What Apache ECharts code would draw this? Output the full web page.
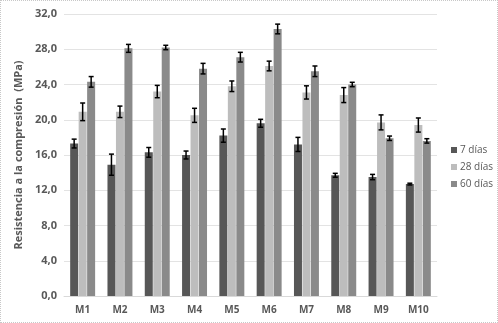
<!DOCTYPE html>
<html><head><meta charset="utf-8">
<script src="https://cdn.jsdelivr.net/npm/echarts@6/dist/echarts.min.js"></script>
<style>html,body{margin:0;padding:0;background:#fff}#c{width:498px;height:323px;box-sizing:border-box;border:1px dotted #c8c8c8}</style>
</head><body><div id="c"></div>
<script>
const categories = ['M1','M2','M3','M4','M5','M6','M7','M8','M9','M10'];
const seriesNames = ['7 días','28 días','60 días'];
const d7  = [17.3,14.9,16.3,16.0,18.2,19.6,17.2,13.7,13.5,12.7];
const d28 = [20.9,20.9,23.2,20.5,23.8,26.1,23.1,22.8,19.7,19.4];
const d60 = [24.3,28.1,28.2,25.8,27.1,30.3,25.5,24.0,17.9,17.6];
const e7  = [0.5,1.2,0.55,0.45,0.75,0.45,0.8,0.22,0.3,0.1];
const e28 = [1.0,0.65,0.7,0.8,0.6,0.55,0.75,0.85,0.85,0.8];
const e60 = [0.6,0.45,0.25,0.6,0.55,0.55,0.6,0.25,0.25,0.25];
const colors = ['#575757','#bdbdbd','#8a8a8a'];

const vals = [d7,d28,d60], errs = [e7,e28,e60];
const BW = 8, GAP = 0.5;
const chart = echarts.init(document.getElementById('c'));
const series = [];
vals.forEach((v,i)=>{
  series.push({name:seriesNames[i],type:'bar',data:v,barWidth:BW,barGap:'6%',barCategoryGap:'33%',
    itemStyle:{color:colors[i]}});
});
vals.forEach((v,i)=>{
  series.push({type:'custom',silent:true,z:10,
    data:v.map((x,k)=>[k,x-errs[i][k],x+errs[i][k]]),
    renderItem:function(params,api){
      const lo=api.coord([api.value(0),api.value(1)]);
      const hi=api.coord([api.value(0),api.value(2)]);
      const x=lo[0]+(i-1)*(BW+GAP);
      const cw=2.5;
      const st={stroke:'#000',lineWidth:1.5};
      return {type:'group',children:[
        {type:'line',shape:{x1:x,y1:lo[1],x2:x,y2:hi[1]},style:st},
        {type:'line',shape:{x1:x-cw,y1:lo[1],x2:x+cw,y2:lo[1]},style:st},
        {type:'line',shape:{x1:x-cw,y1:hi[1],x2:x+cw,y2:hi[1]},style:st}
      ]};
    }});
});
chart.setOption({
  animation:false,
  textStyle:{fontFamily:'Open Sans'},
  grid:{left:63,right:60,top:13,bottom:26},
  legend:{orient:'vertical',left:445,top:139,itemWidth:6,itemHeight:6,itemGap:7,
    textStyle:{fontSize:10,color:'#595959',padding:[0,0,0,-2]},data:seriesNames,icon:'rect'},
  xAxis:{type:'category',data:categories,
    axisLine:{lineStyle:{color:'#d9d9d9'}},axisTick:{show:false},
    axisLabel:{color:'#595959',fontSize:10,fontWeight:'bold',margin:9}},
  yAxis:{type:'value',min:0,max:32,interval:4,
    name:'Resistencia a la compresión  (MPa)',nameLocation:'middle',nameGap:40,
    nameTextStyle:{fontSize:11,fontWeight:'bold',color:'#595959'},
    axisLabel:{color:'#595959',fontSize:11,fontWeight:'bold',margin:7,formatter:v=>v.toFixed(1).replace('.',',')},
    splitLine:{lineStyle:{color:'#e3e3e3',width:1}},axisLine:{show:false}},
  series:series
});
</script></body></html>
